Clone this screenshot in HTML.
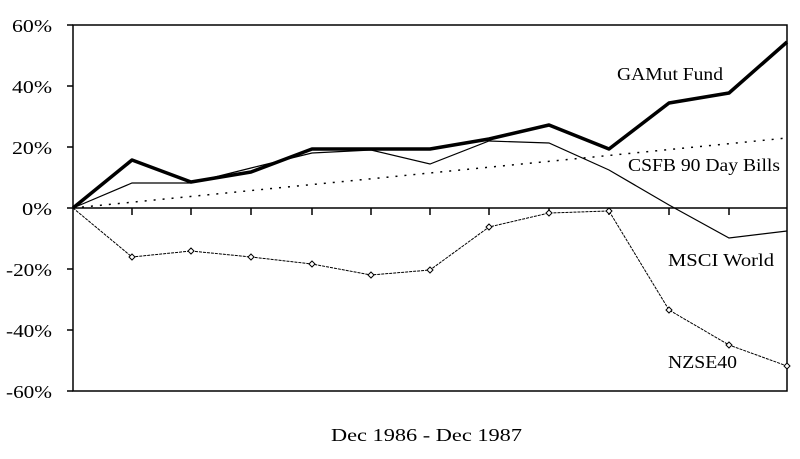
<!DOCTYPE html>
<html><head><style>body{margin:0;background:#fff}</style></head><body>
<svg width="800" height="454" xmlns="http://www.w3.org/2000/svg" font-family="Liberation Serif, serif" font-size="18">
<rect x="0" y="0" width="800" height="454" fill="#fff"/>
<rect x="73" y="25" width="714" height="366" fill="none" stroke="#000" stroke-width="1.5"/>
<g stroke="#000" stroke-width="1.5">
<line x1="67" y1="25" x2="73" y2="25"/><line x1="67" y1="86" x2="73" y2="86"/><line x1="67" y1="147" x2="73" y2="147"/><line x1="67" y1="208" x2="73" y2="208"/><line x1="67" y1="269" x2="73" y2="269"/><line x1="67" y1="330" x2="73" y2="330"/><line x1="67" y1="391" x2="73" y2="391"/>
<line x1="73" y1="208" x2="787" y2="208"/>
<path d="M132 208v7M191 208v7M251 208v7M312 208v7M371 208v7M430 208v7M489 208v7M549 208v7M609 208v7M669 208v7M729 208v7"/>
</g>
<g fill="#000" text-anchor="start" lengthAdjust="spacingAndGlyphs">
<text x="12" y="32" textLength="40" lengthAdjust="spacingAndGlyphs">60%</text>
<text x="12" y="93" textLength="40" lengthAdjust="spacingAndGlyphs">40%</text>
<text x="12" y="154" textLength="40" lengthAdjust="spacingAndGlyphs">20%</text>
<text x="22" y="215" textLength="30" lengthAdjust="spacingAndGlyphs">0%</text>
<text x="6" y="276" textLength="46" lengthAdjust="spacingAndGlyphs">-20%</text>
<text x="6" y="337" textLength="46" lengthAdjust="spacingAndGlyphs">-40%</text>
<text x="6" y="398" textLength="46" lengthAdjust="spacingAndGlyphs">-60%</text>
</g>
<polyline fill="none" stroke="#000" stroke-width="1.5" stroke-dasharray="2,7" points="73,208 787,138"/>
<polyline fill="none" stroke="#000" stroke-width="1.2" points="73,208 132,183 191,183 251,168 312,153 371,150 430,164 489,141 549,143 609,170 669,205 729,238 787,231"/>
<polyline fill="none" stroke="#000" stroke-width="1" stroke-dasharray="3,1" points="73,208 132,257 191,251 251,257 312,264 371,275 430,270 489,227 549,213 609,211 669,310 729,345 787,366"/>
<g fill="#fff" stroke="#000" stroke-width="1">
<path d="M132 254l3 3-3 3-3-3z M191 248l3 3-3 3-3-3z M251 254l3 3-3 3-3-3z M312 261l3 3-3 3-3-3z M371 272l3 3-3 3-3-3z M430 267l3 3-3 3-3-3z M489 224l3 3-3 3-3-3z M549 210l3 3-3 3-3-3z M609 208l3 3-3 3-3-3z M669 307l3 3-3 3-3-3z M729 342l3 3-3 3-3-3z M787 363l3 3-3 3-3-3z"/>
</g>
<polyline fill="none" stroke="#000" stroke-width="3.5" stroke-linejoin="round" points="73,208 132,160 191,182 251,172 312,149 371,149 430,149 489,139 549,125 609,149 669,103 729,93 787,42"/>
<g fill="#000">
<text x="617" y="80" textLength="106" lengthAdjust="spacingAndGlyphs">GAMut Fund</text>
<text x="628" y="171" textLength="152" lengthAdjust="spacingAndGlyphs">CSFB 90 Day Bills</text>
<text x="668" y="266" textLength="106" lengthAdjust="spacingAndGlyphs">MSCI World</text>
<text x="668" y="368" textLength="69" lengthAdjust="spacingAndGlyphs">NZSE40</text>
<text x="331" y="441" textLength="191" lengthAdjust="spacingAndGlyphs">Dec 1986 - Dec 1987</text>
</g>
</svg>
</body></html>
